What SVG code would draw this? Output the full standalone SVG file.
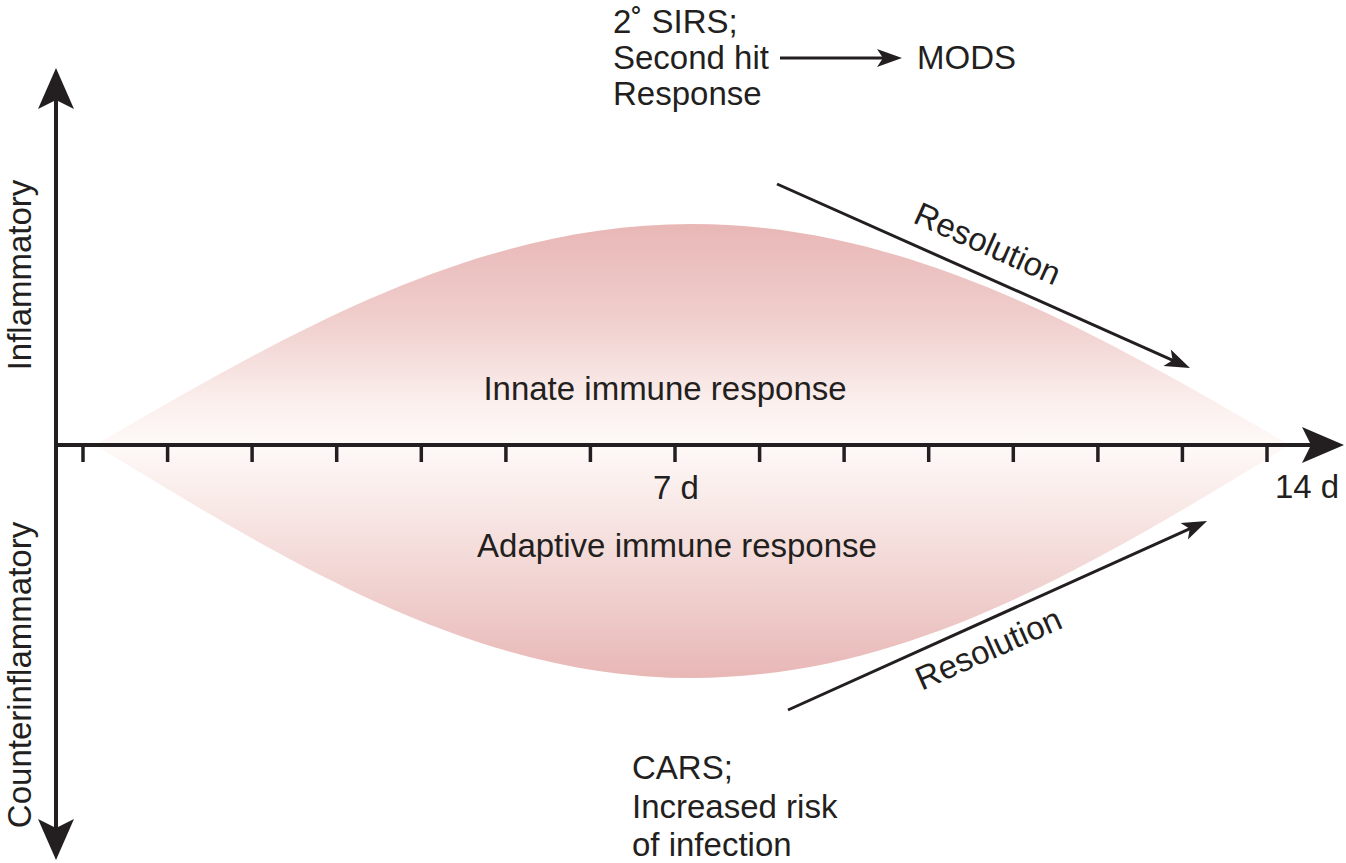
<svg xmlns="http://www.w3.org/2000/svg" width="1346" height="863" viewBox="0 0 1346 863">
<style>
text{font-family:"Liberation Sans",Arial,sans-serif;font-size:33px;fill:#231f20}
.ax{stroke:#231f20;stroke-width:4;fill:none}
.tk{stroke:#231f20;stroke-width:3.5}
.ar{stroke:#231f20;stroke-width:3;fill:none;marker-end:url(#ah)}
.hd{fill:#231f20}
</style>
<defs>
<linearGradient id="lens" gradientUnits="userSpaceOnUse" x1="0" y1="224" x2="0" y2="678">
<stop offset="0" stop-color="#e8b7b6"/>
<stop offset="0.2" stop-color="#efcdcb"/>
<stop offset="0.4" stop-color="#fbf0ee"/>
<stop offset="0.487" stop-color="#fef9f8"/>
<stop offset="0.58" stop-color="#faeeec"/>
<stop offset="0.8" stop-color="#f0d2d0"/>
<stop offset="1" stop-color="#e8b7b6"/>
</linearGradient>
<marker id="ah" markerUnits="userSpaceOnUse" markerWidth="30" markerHeight="24" viewBox="-14 -12 28 24" refX="0" refY="0" orient="auto">
<path d="M12,0 L-13,-9 L-7,0 L-13,9 Z" fill="#231f20"/>
</marker>
</defs>
<g id="lens-shape">
<path d="M95,445 C290,332 476,224 692,224 C909,224 1095,332 1290,445 C1095,564 909,678 692,678 C476,678 290,564 95,445 Z" fill="url(#lens)"/>
</g>
<g id="axes">
<line class="ax" x1="56" y1="100" x2="56" y2="828"/>
<line class="ax" x1="56" y1="445" x2="1312" y2="445"/>
<path class="hd" d="M56,68 L74,109 L56,100 L38,109 Z"/>
<path class="hd" d="M56,860 L74,819 L56,828 L38,819 Z"/>
<path class="hd" d="M1344,445 L1302,427 L1311,445 L1302,463 Z"/>
<g id="ticks">
<line class="tk" x1="83" y1="445" x2="83" y2="462"/>
<line class="tk" x1="167.6" y1="445" x2="167.6" y2="462"/>
<line class="tk" x1="252.1" y1="445" x2="252.1" y2="462"/>
<line class="tk" x1="336.7" y1="445" x2="336.7" y2="462"/>
<line class="tk" x1="421.3" y1="445" x2="421.3" y2="462"/>
<line class="tk" x1="505.9" y1="445" x2="505.9" y2="462"/>
<line class="tk" x1="590.4" y1="445" x2="590.4" y2="462"/>
<line class="tk" x1="675" y1="445" x2="675" y2="462"/>
<line class="tk" x1="759.6" y1="445" x2="759.6" y2="462"/>
<line class="tk" x1="844.1" y1="445" x2="844.1" y2="462"/>
<line class="tk" x1="928.7" y1="445" x2="928.7" y2="462"/>
<line class="tk" x1="1013.3" y1="445" x2="1013.3" y2="462"/>
<line class="tk" x1="1097.9" y1="445" x2="1097.9" y2="462"/>
<line class="tk" x1="1182.4" y1="445" x2="1182.4" y2="462"/>
<line class="tk" x1="1267" y1="445" x2="1267" y2="462"/>
</g>
<text id="lbl-inflammatory" transform="translate(31,275) rotate(-90)" text-anchor="middle">Inflammatory</text>
<text id="lbl-counter" transform="translate(31,675) rotate(-90)" text-anchor="middle">Counterinflammatory</text>
<text id="lbl-7d" x="676" y="499" text-anchor="middle">7 d</text>
<text id="lbl-14d" x="1307" y="498" text-anchor="middle">14 d</text>
</g>
<g id="innate"><text x="665" y="400" text-anchor="middle">Innate immune response</text></g>
<g id="adaptive"><text x="677" y="557" text-anchor="middle">Adaptive immune response</text></g>
<g id="sirs">
<text x="613" y="33">2˚ SIRS;</text>
<text x="613" y="69">Second hit</text>
<text x="613" y="105">Response</text>
</g>
<g id="mods"><text x="917" y="69">MODS</text></g>
<g id="cars">
<text x="632" y="779">CARS;</text>
<text x="632" y="818">Increased risk</text>
<text x="632" y="856">of infection</text>
</g>
<g id="connectors">
<line class="ar" x1="780" y1="58" x2="890" y2="58"/>
<line class="ar" x1="777" y1="184" x2="1179" y2="363.1"/>
<line class="ar" x1="788" y1="710" x2="1196.1" y2="525.9"/>
<text transform="translate(983,254) rotate(24)" text-anchor="middle">Resolution</text>
<text transform="translate(993,659) rotate(-24)" text-anchor="middle">Resolution</text>
</g>
</svg>
